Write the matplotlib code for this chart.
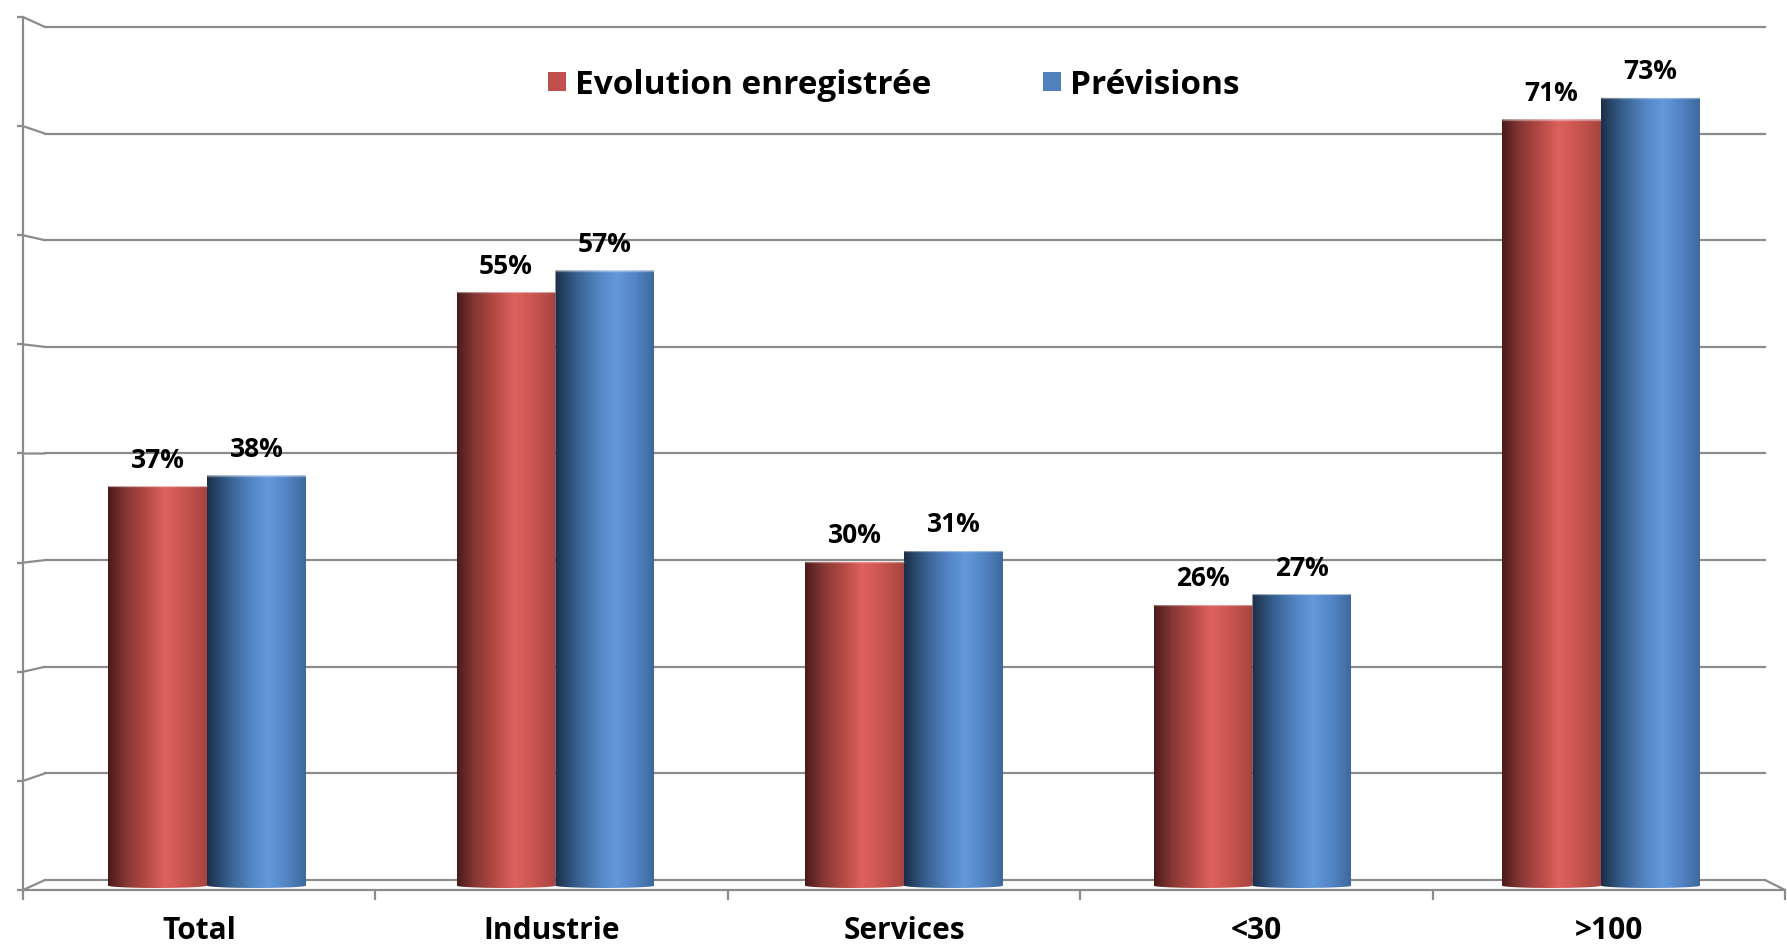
import numpy as np
import matplotlib.pyplot as plt
from matplotlib.patches import PathPatch, Rectangle, ConnectionPatch
from matplotlib.path import Path
from matplotlib.colors import LinearSegmentedColormap

# données
categories = ["Total", "Industrie", "Services", "<30", ">100"]
evolution = [37, 55, 30, 26, 71]
previsions = [38, 57, 31, 27, 73]
series_names = ["Evolution enregistrée", "Prévisions"]
y_ticks = list(range(0, 90, 10))

plt.rcParams['font.family'] = ['Open Sans', 'DejaVu Sans']

W, H = 1787, 952
GRID = '#8c8c8c'
fig = plt.figure(figsize=(W / 100, H / 100), dpi=100)


def px_box(x0, y_top, x1, y_bot):
    # boîte en pixels (origine en haut à gauche) -> fraction de figure
    return [x0 / W, 1 - y_bot / H, (x1 - x0) / W, (y_bot - y_top) / H]


# 3 plans : cadre avant, paroi arrière (grille), plan médian (cylindres)
front = fig.add_axes(px_box(23, 17, 1785, 890))
back = fig.add_axes(px_box(45, 27, 1765, 880))
mid = fig.add_axes(px_box(45, 22.4, 1765, 885.6))
for a in (front, back, mid):
    a.patch.set_visible(False)

# --- paroi arrière
x_lo, x_hi = -0.4648, 4.4706
back.set_xlim(x_lo, x_hi)
back.set_ylim(0, 80)
back.set_yticks(y_ticks)
back.set_xticks([])
back.tick_params(left=False, labelleft=False)
for s in back.spines.values():
    s.set_visible(False)
back.grid(axis='y', color=GRID, lw=1.6)
for gl in back.get_ygridlines():
    gl.set_clip_on(False)

# --- cylindres
mid.axis('off')

red_cmap = LinearSegmentedColormap.from_list('red', [
    (0.0, '#4a1a1a'), (0.18, '#853734'), (0.4, '#b84b47'),
    (0.58, '#de625d'), (0.78, '#c9544f'), (1.0, '#a6443f')])
blue_cmap = LinearSegmentedColormap.from_list('blue', [
    (0.0, '#1b2e48'), (0.22, '#37608f'), (0.45, '#5486c4'),
    (0.62, '#6299da'), (0.82, '#5283c2'), (1.0, '#3c689c')])

bar_w = 0.284
depth = 0.22  # fond arrondi des cylindres
grad = np.linspace(0, 1, 256)[np.newaxis, :]
t = np.linspace(0, np.pi, 40)


def cylinder(xc, val, cmap):
    x0, x1 = xc - bar_w / 2, xc + bar_w / 2
    verts = [(x0, val), (x1, val)]
    verts += list(zip(xc + bar_w / 2 * np.cos(t), -depth * np.sin(t)))
    verts += [(x0, val)]
    codes = [Path.MOVETO] + [Path.LINETO] * (len(verts) - 2) + [Path.CLOSEPOLY]
    patch = PathPatch(Path(verts, codes), transform=mid.transData,
                      facecolor='none', edgecolor='none')
    mid.add_patch(patch)
    im = mid.imshow(grad, cmap=cmap, aspect='auto', extent=(x0, x1, -depth, val),
                    interpolation='bilinear', zorder=2)
    im.set_clip_path(patch)
    im.set_clip_box(fig.bbox)
    # léger reflet sur le bord supérieur
    mid.plot([x0, x1], [val, val], color='white', alpha=0.35, lw=1, zorder=3,
             solid_capstyle='butt')


for i in range(len(categories)):
    for v, cmap, off in ((evolution[i], red_cmap, -bar_w / 2),
                         (previsions[i], blue_cmap, bar_w / 2)):
        cylinder(i + off, v, cmap)
        mid.annotate(f"{v}%", (i + off, v), xytext=(0, 13.4), textcoords='offset points',
                     ha='center', va='baseline', fontsize=19, fontweight='bold')

mid.set_xlim(x_lo, x_hi)
mid.set_ylim(0, 80)

# --- cadre avant
front.set_xlim(0, len(categories))
front.set_ylim(0, 80)
front.spines['top'].set_visible(False)
front.spines['right'].set_visible(False)
for s in ('left', 'bottom'):
    front.spines[s].set_color(GRID)
    front.spines[s].set_linewidth(1.6)
front.set_yticks(y_ticks)
front.set_yticklabels([])
front.tick_params(axis='y', direction='out', length=4.5, width=1.6, color=GRID)
front.set_xticks(range(len(categories) + 1))
front.set_xticklabels([])
front.tick_params(axis='x', which='major', direction='out', length=7, width=1.6, color=GRID)
front.set_xticks(np.arange(len(categories)) + 0.5, minor=True)
front.set_xticklabels(categories, minor=True, fontsize=21.5, fontweight='bold')
front.tick_params(axis='x', which='minor', length=0, pad=19)

# liaisons en perspective entre cadre avant et paroi arrière
for v in y_ticks:
    fig.add_artist(ConnectionPatch(xyA=(0, v), coordsA=front.transData,
                                   xyB=(x_lo, v), coordsB=back.transData,
                                   color=GRID, lw=1.6))
fig.add_artist(ConnectionPatch(xyA=(len(categories), 0), coordsA=front.transData,
                               xyB=(x_hi, 0), coordsB=back.transData,
                               color=GRID, lw=1.6))

# --- légende
legend_items = [(series_names[0], '#c0504d', 548), (series_names[1], '#4f81bd', 1043)]
for name, col, x in legend_items:
    fig.add_artist(Rectangle((x / W, 1 - 91 / H), 18 / W, 19 / H,
                             transform=fig.transFigure, facecolor=col, edgecolor='none'))
    fig.text((x + 27) / W, 1 - 86 / H, name, fontsize=24, fontweight='bold',
             ha='left', va='center')

fig.savefig('out.png', dpi=100)
